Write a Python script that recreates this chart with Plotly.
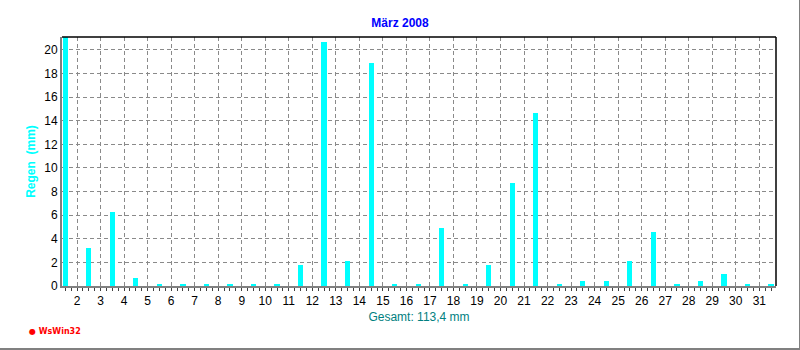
import plotly.graph_objects as go

days = list(range(1, 32))
rain_mm = [21.1, 3.2, 6.3, 0.7, 0.1, 0.1, 0.1, 0.1, 0.1, 0.1,
           1.8, 20.7, 2.1, 18.9, 0.1, 0.1, 4.9, 0.1, 1.8, 8.7,
           14.7, 0.1, 0.4, 0.4, 2.1, 4.6, 0.1, 0.4, 1.0, 0.1, 0.1]
tick_labels = [str(d) for d in range(2, 32)]
title_text = "März 2008"
total_text = "Gesamt: 113,4 mm"

fig = go.Figure()
fig.add_trace(go.Bar(x=days, y=rain_mm, width=0.22,
                     marker=dict(color="#00FFFF", line=dict(width=0)),
                     hoverinfo="x+y"))

grid_color = "#8a8a8a"
fig.update_layout(
    width=800, height=350,
    margin=dict(l=62, r=24, t=37, b=64),
    paper_bgcolor="white", plot_bgcolor="white",
    showlegend=False,
    font=dict(family="Liberation Sans, Arial, sans-serif", size=12, color="black"),
    title=dict(text="<b>" + title_text + "</b>", x=0.5, xanchor="center",
               y=1 - 23 / 350, yanchor="middle",
               font=dict(size=12, color="#0000FF")),
    bargap=0,
)
fig.update_xaxes(
    range=[0.86, 31.21],
    tickmode="array",
    tickvals=[d - 0.5 for d in range(2, 32)],
    ticktext=tick_labels,
    ticks="outside", ticklen=3, tickcolor="#404040", tickwidth=1,
    showgrid=True, gridcolor=grid_color, griddash="4px,3px", gridwidth=1,
    showline=True, linecolor="#808080", linewidth=2,
    zeroline=False,
    tickfont=dict(size=12, color="black"),
    minor=dict(tickmode="linear", tick0=0.5, dtick=0.25, ticks="outside",
               ticklen=3, tickcolor="#404040", tickwidth=1, showgrid=False),
    title=dict(text=total_text, font=dict(size=12, color="#008080"), standoff=5),
)
fig.update_yaxes(
    range=[0, 21.1],
    tickmode="linear", tick0=0, dtick=2,
    ticks="", ticklen=0,
    showgrid=True, gridcolor=grid_color, griddash="4px,3px", gridwidth=1,
    showline=True, linecolor="#808080", linewidth=2,
    zeroline=False,
    tickfont=dict(size=12, color="black"),
    title=dict(text="<b>Regen  (mm)</b>", font=dict(size=12, color="#00FFFF"), standoff=6),
)

# frame: top and right black lines
fig.add_shape(type="line", xref="paper", yref="paper", x0=0, x1=1, y0=1, y1=1,
              line=dict(color="black", width=1.5))
fig.add_shape(type="line", xref="paper", yref="paper", x0=1, x1=1, y0=0, y1=1,
              line=dict(color="black", width=1.5))

# outer window border (right & bottom)
fig.add_shape(type="line", xref="paper", yref="paper",
              x0=-62 / 714, x1=1 + 24 / 714, y0=-63 / 249, y1=-63 / 249,
              line=dict(color="#808080", width=2))
fig.add_shape(type="line", xref="paper", yref="paper",
              x0=1 + 24 / 714, x1=1 + 24 / 714, y0=-64 / 249, y1=1 + 37 / 249,
              line=dict(color="#808080", width=2))

# WsWin32 label
fig.add_annotation(text="<b>● WsWin32</b>", xref="paper", yref="paper",
                   x=-35 / 714, y=-45 / 249, xanchor="left", yanchor="middle",
                   showarrow=False, font=dict(size=8, color="#FF0000", family="DejaVu Sans"))

fig.write_html("out.html")
